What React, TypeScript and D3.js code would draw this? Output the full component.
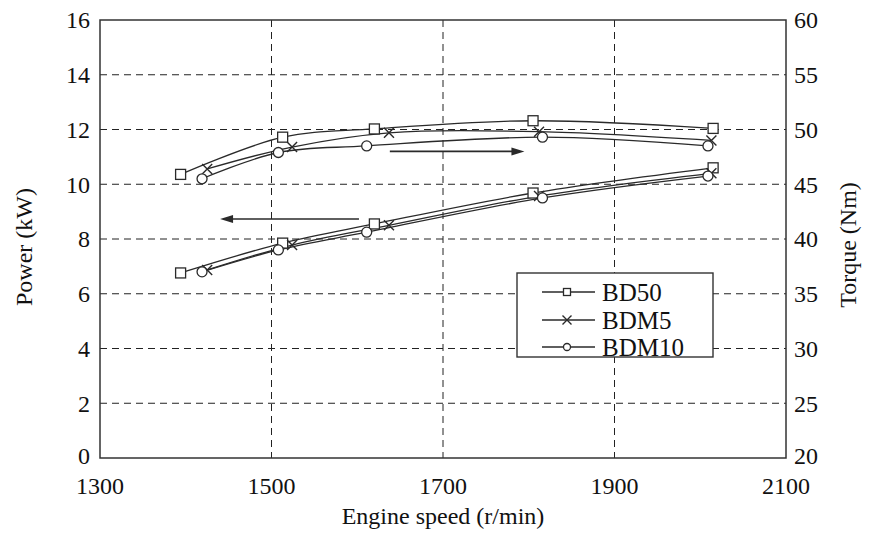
import React from "react";
import * as d3 from "d3";

// Engine speed (r/min) at each measured point, per fuel
const speedBD50 = [1394, 1513, 1620, 1805, 2015];
const speedBDM5 = [1425, 1524, 1637, 1812, 2013];
const speedBDM10 = [1419, 1508, 1611, 1816, 2009];

// Power (kW), left axis
const powerBD50 = [6.76, 7.85, 8.55, 9.68, 10.6];
const powerBDM5 = [6.87, 7.78, 8.5, 9.57, 10.4];
const powerBDM10 = [6.8, 7.6, 8.25, 9.5, 10.3];

// Torque (Nm), right axis
const torqueBD50 = [45.9, 49.3, 50.05, 50.8, 50.1];
const torqueBDM5 = [46.4, 48.4, 49.7, 49.8, 49.0];
const torqueBDM10 = [45.5, 47.9, 48.5, 49.3, 48.5];

const fuels = ["BD50", "BDM5", "BDM10"];
const markerKinds = ["square", "cross", "circle"];

const xTicks = [1300, 1500, 1700, 1900, 2100];
const powerTicks = [0, 2, 4, 6, 8, 10, 12, 14, 16];
const torqueTicks = [20, 25, 30, 35, 40, 45, 50, 55, 60];

// Arrows pointing to the axis each curve family belongs to
const torqueArrow = { from: 1638, to: 1795, value: 48.0 };
const powerArrow = { from: 1602, to: 1440, value: 8.73 };

const W = 873;
const H = 533;
const M = { left: 100, right: 786, top: 20, bottom: 458 };
const FONT = "'Liberation Serif', 'Times New Roman', serif";
const INK = "#2a2a2a";

function Marker({ kind, x, y, s }: { kind: string; x: number; y: number; s: number }) {
  if (kind === "square")
    return <rect x={x - s / 2} y={y - s / 2} width={s} height={s} fill="#fff" stroke={INK} strokeWidth={1.3} />;
  if (kind === "circle")
    return <circle cx={x} cy={y} r={s / 2} fill="#fff" stroke={INK} strokeWidth={1.3} />;
  const h = s / 2;
  return (
    <path d={`M${x - h},${y - h}L${x + h},${y + h}M${x - h},${y + h}L${x + h},${y - h}`} stroke={INK} strokeWidth={1.4} fill="none" />
  );
}

export default function App() {
  const x = d3.scaleLinear().domain([1300, 2100]).range([M.left, M.right]);
  const yP = d3.scaleLinear().domain([0, 16]).range([M.bottom, M.top]);
  const yT = d3.scaleLinear().domain([20, 60]).range([M.bottom, M.top]);

  const speeds = [speedBD50, speedBDM5, speedBDM10];
  const powers = [powerBD50, powerBDM5, powerBDM10];
  const torques = [torqueBD50, torqueBDM5, torqueBDM10];

  const line = d3
    .line<[number, number]>()
    .x((d) => d[0])
    .y((d) => d[1])
    .curve(d3.curveCatmullRom.alpha(0.5));

  const series = fuels.flatMap((f, i) => {
    const pPts = speeds[i].map((s, j) => [x(s), yP(powers[i][j])] as [number, number]);
    const tPts = speeds[i].map((s, j) => [x(s), yT(torques[i][j])] as [number, number]);
    return [
      { key: f + "-p", pts: pPts, kind: markerKinds[i] },
      { key: f + "-t", pts: tPts, kind: markerKinds[i] },
    ];
  });

  const arrow = (x1: number, x2: number, y: number, key: string) => {
    const dir = x2 > x1 ? 1 : -1;
    const len = 13;
    const hw = 4;
    return (
      <g key={key}>
        <line x1={x1} y1={y} x2={x2 - dir * len + dir * 2} y2={y} stroke={INK} strokeWidth={1.6} />
        <path d={`M${x2},${y}L${x2 - dir * len},${y - hw}L${x2 - dir * len},${y + hw}Z`} fill={INK} />
      </g>
    );
  };

  const legend = { x0: 517, y0: 273, x1: 713, y1: 357 };
  const legendRows = [292, 320, 347];

  return (
    <svg width={W} height={H} style={{ position: "absolute", left: 0, top: 0, background: "#fff" }}>
      <rect x={0} y={0} width={W} height={H} fill="#fff" />
      {/* dashed grid */}
      <g stroke="#222" strokeWidth={1} strokeDasharray="7,5">
        {powerTicks.slice(1, -1).map((t) => (
          <line key={"h" + t} x1={M.left} x2={M.right} y1={yP(t)} y2={yP(t)} />
        ))}
        {xTicks.slice(1, -1).map((t) => (
          <line key={"v" + t} x1={x(t)} x2={x(t)} y1={M.top} y2={M.bottom} />
        ))}
      </g>
      {/* frame */}
      <rect x={M.left} y={M.top} width={M.right - M.left} height={M.bottom - M.top} fill="none" stroke="#333" strokeWidth={1.5} />

      {/* tick labels */}
      <g fontFamily={FONT} fontSize={24} fill="#111">
        {powerTicks.map((t) => (
          <text key={"pl" + t} x={M.left - 10} y={yP(t) - (t === 0 ? 2 : 0)} dy="0.35em" textAnchor="end">
            {t}
          </text>
        ))}
        {torqueTicks.map((t) => (
          <text key={"tl" + t} x={M.right + 8} y={yT(t) - (t === 20 ? 2 : 0)} dy="0.35em" textAnchor="start">
            {t}
          </text>
        ))}
        {xTicks.map((t) => (
          <text key={"xl" + t} x={x(t)} y={M.bottom + 36} textAnchor="middle">
            {t}
          </text>
        ))}
        <text x={(M.left + M.right) / 2} y={M.bottom + 66} textAnchor="middle">
          Engine speed (r/min)
        </text>
        <text transform={`translate(32,${(M.top + M.bottom) / 2 + 8}) rotate(-90)`} textAnchor="middle">
          Power (kW)
        </text>
        <text transform={`translate(856,${(M.top + M.bottom) / 2 + 6}) rotate(-90)`} textAnchor="middle">
          Torque (Nm)
        </text>
      </g>

      {/* curves */}
      <g fill="none" stroke={INK} strokeWidth={1.3}>
        {series.map((s) => (
          <path key={s.key} d={line(s.pts) || ""} />
        ))}
      </g>
      {series.map((s) =>
        s.pts.map((p, j) => <Marker key={s.key + j} kind={s.kind} x={p[0]} y={p[1]} s={10} />)
      )}

      {arrow(x(torqueArrow.from), x(torqueArrow.to), yT(torqueArrow.value), "ta")}
      {arrow(x(powerArrow.from), x(powerArrow.to), yP(powerArrow.value), "pa")}

      {/* legend */}
      <rect x={legend.x0} y={legend.y0} width={legend.x1 - legend.x0} height={legend.y1 - legend.y0} fill="#fff" stroke="#333" strokeWidth={1.4} />
      {fuels.map((f, i) => (
        <g key={"lg" + f}>
          <line x1={542} x2={595} y1={legendRows[i]} y2={legendRows[i]} stroke={INK} strokeWidth={1.3} />
          <Marker kind={markerKinds[i]} x={567} y={legendRows[i]} s={i === 1 ? 9 : 7} />
          <text x={602} y={legendRows[i]} dy="0.35em" fontFamily={FONT} fontSize={25} fill="#111">
            {f}
          </text>
        </g>
      ))}
    </svg>
  );
}
